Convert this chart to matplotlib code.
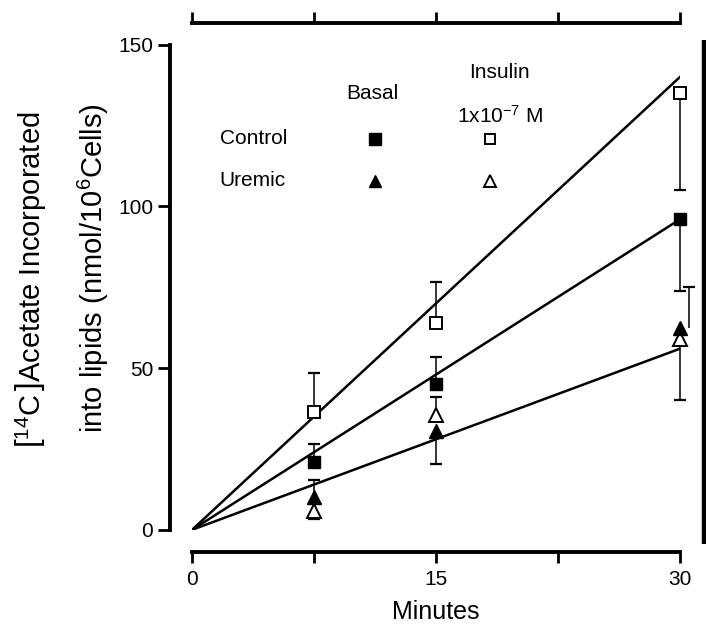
import numpy as np
import matplotlib
matplotlib.use("Agg")
from matplotlib import pyplot as plt

plt.rcParams['font.family'] = ['Liberation Sans', 'DejaVu Sans']
plt.rcParams['mathtext.fontset'] = 'custom'
plt.rcParams['mathtext.rm'] = 'Liberation Sans'
plt.rcParams['mathtext.it'] = 'Liberation Sans'

# data
minutes = [7.5, 15, 30]
control_basal = [21, 45, 96]
control_insulin = [36.5, 64, 135]
uremic_basal = [10, 30.5, 62.5]
uremic_insulin = [5.8, 35.6, 59]

# one-sided error bars (lower, upper)
control_basal_err = ([0, 0, 22], [5.5, 8.5, 0])
control_insulin_err = ([0, 0, 30], [12, 12.5, 0])
uremic_basal_err = ([0, 10, 0], [5.5, 0, 0])
uremic_insulin_err = ([2.5, 0, 19], [0, 5.5, 0])
uremic_basal_30_offset_err = 12.5

# fitted lines through the origin, value at 30 min
line_ends = [140, 96, 56]

fig = plt.figure(figsize=(7.06, 6.30), dpi=100)
ax = fig.add_axes([0.272, 0.159, 0.691, 0.770])

for end in line_ends:
    ax.plot([0, 30], [0, end], color='black', lw=1.8, zorder=2)


def draw_bars(x, y, err, dx=0.0):
    lo, hi = err
    for xi, yi, l, h in zip(x, y, lo, hi):
        if l > 0:
            ax.errorbar([xi + dx], [yi], yerr=([l], [0]), fmt='none', ecolor='black',
                        elinewidth=1.1, capsize=0, clip_on=False, zorder=3)
            ax.plot([xi + dx], [yi - l], marker='_', ms=8, mew=1.6, color='black',
                    clip_on=False, zorder=3)
        if h > 0:
            ax.errorbar([xi + dx], [yi], yerr=([0], [h]), fmt='none', ecolor='black',
                        elinewidth=1.1, capsize=0, clip_on=False, zorder=3)
            ax.plot([xi + dx], [yi + h], marker='_', ms=8, mew=1.6, color='black',
                    clip_on=False, zorder=3)


draw_bars(minutes, control_insulin, control_insulin_err)
draw_bars(minutes, control_basal, control_basal_err)
draw_bars(minutes, uremic_insulin, uremic_insulin_err)
draw_bars(minutes, uremic_basal, uremic_basal_err)
draw_bars([30], [uremic_basal[2]], ([0], [uremic_basal_30_offset_err]), dx=0.55)

ms = 9
ax.plot(minutes, control_insulin, 's', ms=ms, mfc='white', mec='black', mew=1.4,
        clip_on=False, zorder=4)
ax.plot(minutes, control_basal, 's', ms=ms, mfc='black', mec='black',
        clip_on=False, zorder=4)
ax.plot(minutes, uremic_insulin, '^', ms=ms + 1, mfc='white', mec='black', mew=1.4,
        clip_on=False, zorder=4)
ax.plot(minutes, uremic_basal, '^', ms=ms + 1, mfc='black', mec='black',
        clip_on=False, zorder=4)

ax.set_xlim(0, 30)
ax.set_ylim(0, 150)

# spines offset outward like the original
for side in ['left', 'bottom', 'top']:
    ax.spines[side].set_position(('outward', 16))
    ax.spines[side].set_linewidth(2.8)
ax.spines['right'].set_visible(False)
ax.plot([1.049, 1.049], [-0.03, 1.01], transform=ax.transAxes, color='black',
        lw=3.2, clip_on=False, solid_capstyle='butt')

ax.set_xticks([0, 7.5, 15, 22.5, 30])
ax.set_xticklabels(['0', '', '15', '', '30'])
ax.set_yticks([0, 50, 100, 150])
ax.tick_params(axis='x', which='both', direction='out', length=8, width=2,
               labelsize=15, top=True, labeltop=False, pad=5)
ax.tick_params(axis='y', direction='out', length=9, width=2, labelsize=15, pad=3)

ax.set_xlabel('Minutes', fontsize=18, labelpad=8)

fig.text(0.045, 0.556, r'$\left[^{14}\mathrm{C}_{\,}\right]$Acetate Incorporated',
         rotation=90, ha='center', va='center', fontsize=21)
fig.text(0.132, 0.575, r'into lipids (nmol/10$^{6}$Cells)',
         rotation=90, ha='center', va='center', fontsize=21)

# in-plot key
kfs = 15
ax.text(18.9, 141.5, 'Insulin', ha='center', va='center', fontsize=kfs)
ax.text(11.1, 135, 'Basal', ha='center', va='center', fontsize=kfs)
ax.text(16.3, 128, r'1x10$^{-7}$ M', ha='left', va='center', fontsize=kfs)
ax.text(1.7, 121, 'Control', ha='left', va='center', fontsize=kfs)
ax.text(1.7, 108, 'Uremic', ha='left', va='center', fontsize=kfs)
ax.plot([11.25], [121], marker='s', ms=8, mfc='black', mec='black')
ax.plot([18.3], [121], marker='s', ms=7, mfc='white', mec='black', mew=1.4)
ax.plot([11.25], [108], marker='^', ms=8.5, mfc='black', mec='black')
ax.plot([18.3], [108], marker='^', ms=8, mfc='white', mec='black', mew=1.4)

fig.savefig('out.png', dpi=100)
